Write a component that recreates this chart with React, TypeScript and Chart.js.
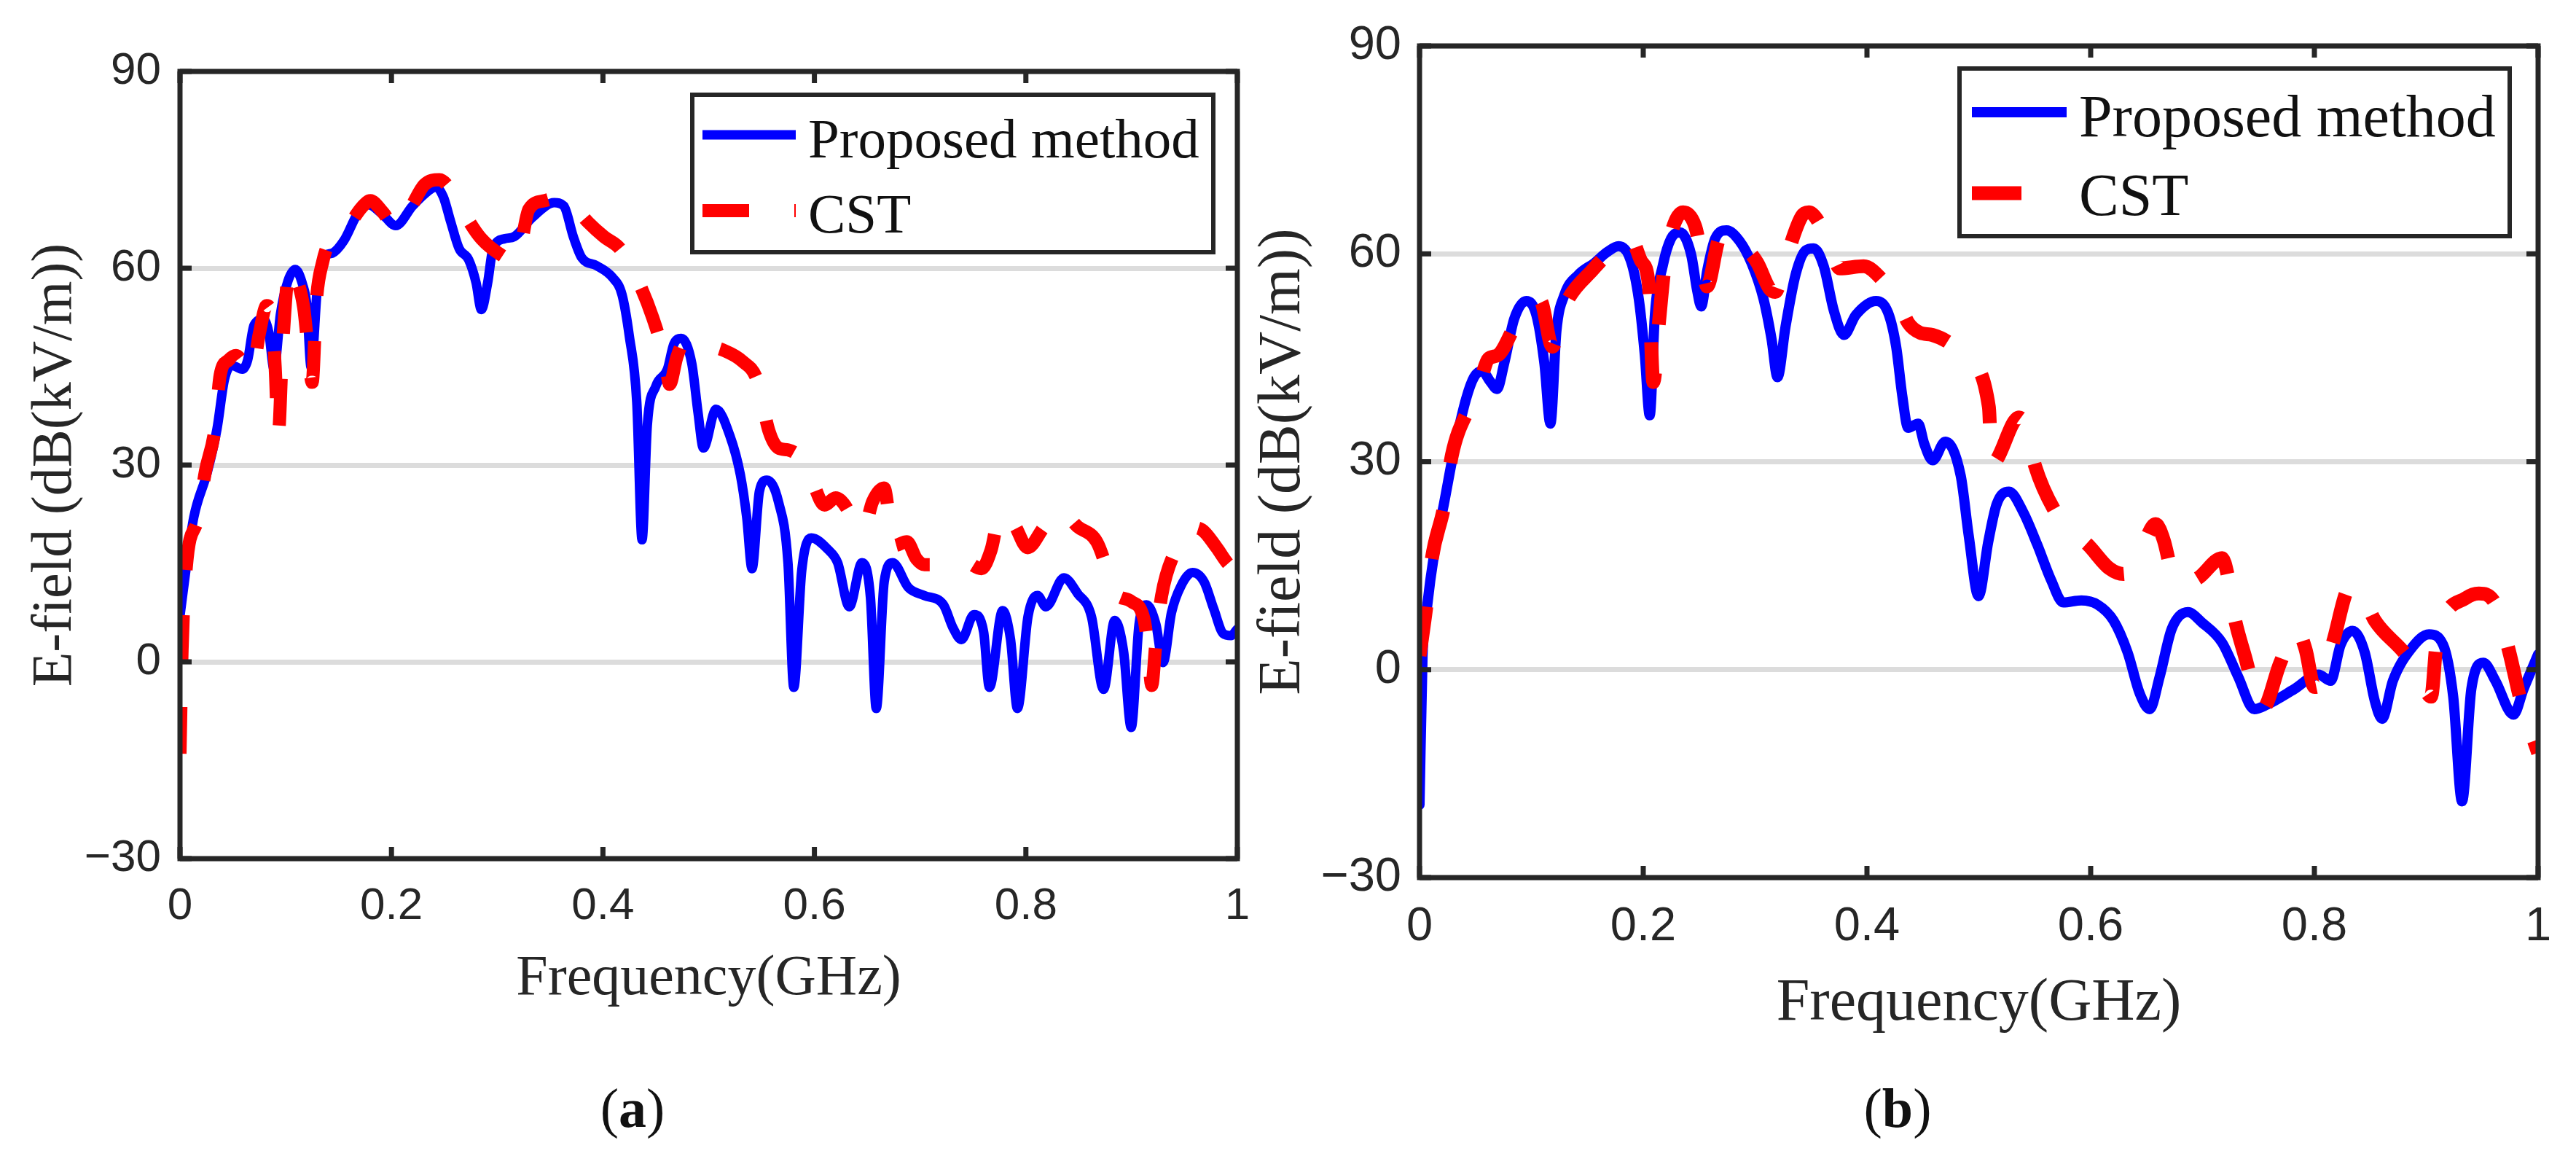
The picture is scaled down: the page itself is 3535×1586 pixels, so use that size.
import React, { useEffect, useRef } from 'react';
import { Chart, registerables } from 'chart.js';

Chart.register(...registerables);

// ---------------- DATA ----------------
const seriesLabels = ['Proposed method', 'CST'];
const xAxisTitle = 'Frequency(GHz)';
const yAxisTitle = 'E-field (dB(kV/m))';
const xTickValues = [0, 0.2, 0.4, 0.6, 0.8, 1];
const xTickLabels = ['0', '0.2', '0.4', '0.6', '0.8', '1'];
const yTickValues = [-30, 0, 30, 60, 90];
const yTickLabels = ['\u221230', '0', '30', '60', '90'];
const panelLetters = ['a', 'b'];

// Panel (a) — Proposed method
const freqProposedA = [
  0, 0.006, 0.013, 0.026, 0.035, 0.042, 0.049, 0.059, 0.064, 0.07, 0.079, 0.084, 0.089, 0.095, 0.102,
  0.109, 0.116, 0.12, 0.124, 0.13, 0.135, 0.144, 0.155, 0.169, 0.178, 0.191, 0.204, 0.22, 0.235, 0.242,
  0.249, 0.256, 0.264, 0.273, 0.28, 0.285, 0.291, 0.296, 0.307, 0.316, 0.333, 0.354, 0.363, 0.372, 0.38,
  0.394, 0.409, 0.418, 0.425, 0.432, 0.437, 0.442, 0.45, 0.461, 0.467, 0.474, 0.484, 0.49, 0.495, 0.507,
  0.52, 0.53, 0.536, 0.541, 0.548, 0.555, 0.566, 0.575, 0.5805, 0.588, 0.597, 0.613, 0.622, 0.633, 0.645,
  0.653, 0.6585, 0.666, 0.674, 0.689, 0.704, 0.722, 0.731, 0.739, 0.751, 0.76, 0.7655, 0.778, 0.7855, 0.792,
  0.802, 0.811, 0.819, 0.836, 0.849, 0.862, 0.8735, 0.884, 0.8924, 0.8996, 0.907, 0.914, 0.923, 0.9297,
  0.9377, 0.9468, 0.9577, 0.9685, 0.9776, 0.9867, 0.994, 1,
];
const eFieldProposedA = [
  7, 14.5, 22, 29, 35.5, 43, 45.2, 44.6, 46, 51.3, 52.2, 50.2, 44.6, 53, 58,
  59.8, 57.5, 54.3, 44.9, 57.2, 61.6, 62.3, 64.2, 68.6, 69.7, 68.3, 66.5, 69.5, 71.8, 72.4,
  70.9, 67.1, 63, 61.3, 57.8, 53.7, 57.8, 63, 64.5, 64.8, 67.7, 70, 69.5, 64.8, 61.6,
  60.4, 58.6, 56, 49.6, 39.6, 18.6, 36.1, 42, 44.6, 48.4, 49.3, 45.5, 37.9, 32.6, 38.5,
  34.5, 28.5, 22, 14.2, 26, 27.7, 24.4, 15.1, -3.9, 13.9, 18.9, 17.1, 15.1, 8.4, 15.1,
  9.8, -7.1, 12.2, 15.1, 11.3, 10.1, 8.7, 5.2, 3.4, 7.2, 4.6, -3.9, 7.8, 3.4, -7.1,
  6.9, 10.1, 8.4, 12.8, 10.4, 6.9, -4.2, 6.3, 1.6, -10, 5.7, 8.7, 5.7, -0.1,
  7.5, 11.6, 13.6, 12.2, 8.1, 4.3, 4, 5,
];

// Panel (a) — CST
const freqCstA = [
  0, 0.002, 0.006, 0.017, 0.024, 0.033, 0.038, 0.046, 0.053, 0.06, 0.068, 0.075, 0.082, 0.087, 0.09,
  0.093, 0.097, 0.104, 0.11, 0.117, 0.121, 0.125, 0.129, 0.135, 0.142, 0.157, 0.172, 0.18, 0.192, 0.204,
  0.218, 0.231, 0.2454, 0.256, 0.264, 0.274, 0.285, 0.303, 0.318, 0.33, 0.345, 0.36, 0.372, 0.386, 0.401,
  0.416, 0.429, 0.447, 0.459, 0.463, 0.47, 0.478, 0.495, 0.514, 0.532, 0.546, 0.557, 0.566, 0.575, 0.586,
  0.598, 0.6095, 0.62, 0.631, 0.637, 0.642, 0.6477, 0.655, 0.6658, 0.675, 0.6875, 0.6965, 0.704, 0.724, 0.74,
  0.758, 0.767, 0.776, 0.789, 0.8017, 0.817, 0.8326, 0.849, 0.867, 0.876, 0.8833, 0.8996, 0.912, 0.9155,
  0.919, 0.923, 0.9284, 0.941, 0.955, 0.9667, 0.98, 0.992, 1,
];
const eFieldCstA = [
  -14, 2, 14.5, 22, 29, 35.5, 43.7, 46, 46.7, 45.5, 44, 50, 54.3, 52, 45,
  34.7, 48, 60.4, 58.5, 54, 48, 42.6, 55, 61, 64.2, 66, 69.3, 70.3, 68.5, 66.2,
  69.2, 72.7, 73.5, 72, 70, 67, 64.5, 62.1, 61, 69, 70.3, 70.8, 69.5, 67, 64.8,
  63, 59.5, 52.5, 45.8, 42.3, 46.5, 49, 48.3, 47.5, 45.8, 42.9, 35.2, 32.6, 32.3, 31.2,
  27.5, 23.9, 25, 23.3, 20.9, 20.3, 20.6, 24.4, 26.5, 17.7, 18.3, 15.7, 14.8, 14.8, 15.4,
  14.2, 17, 22.7, 20.9, 17.4, 20.5, 23, 20.6, 18.3, 14.5, 10.7, 9.2, 6.3, 2,
  -3.6, 3, 10.1, 16.8, 20.5, 20.1, 17.5, 14.8, 14,
];

// Panel (b) — Proposed method
const freqProposedB = [
  0, 0.0027, 0.007, 0.0128, 0.0218, 0.0307, 0.0415, 0.0487, 0.0559, 0.0631, 0.0692, 0.0757, 0.0846, 0.0954,
  0.1044, 0.1116, 0.117, 0.1224, 0.1296, 0.1421, 0.1565, 0.1673, 0.1781, 0.1889, 0.196, 0.2014, 0.2058,
  0.2104, 0.2176, 0.2248, 0.2327, 0.2428, 0.2482, 0.2518, 0.2572, 0.2643, 0.2744, 0.2859, 0.2967, 0.3075,
  0.3147, 0.32, 0.3272, 0.3362, 0.3452, 0.3524, 0.3614, 0.3704, 0.3794, 0.3901, 0.4081, 0.4189, 0.4261,
  0.4315, 0.4368, 0.4458, 0.4512, 0.4587, 0.47, 0.4838, 0.491, 0.4997, 0.5085, 0.516, 0.527, 0.5395, 0.5521,
  0.5647, 0.5755, 0.5917, 0.606, 0.6204, 0.633, 0.6438, 0.6527, 0.6617, 0.6725, 0.6869, 0.6995, 0.7175,
  0.7318, 0.7462, 0.757, 0.7821, 0.8037, 0.8145, 0.8235, 0.8342, 0.845, 0.854, 0.8605, 0.8702, 0.8864,
  0.9025, 0.9151, 0.9241, 0.932, 0.9403, 0.9511, 0.9618, 0.978, 0.987, 1,
];
const eFieldProposedB = [
  -19.5, 1.9, 9.4, 16.4, 23.9, 31.5, 39, 42.2, 43.1, 41.6, 40.5, 44.2, 50.6, 53.2,
  51.2, 44.2, 35.5, 48.9, 54.1, 57, 58.7, 60.2, 61.1, 59, 53.5, 45.4, 36.7,
  51.2, 58.4, 62.2, 63.1, 59.9, 54.7, 52.4, 57.6, 62.2, 63.4, 61.9, 58.7, 53.5,
  47.7, 42.2, 49.5, 57, 60.5, 60.8, 58.2, 51.8, 48.3, 51.2, 53.2, 51.5, 46.6,
  39.6, 34.9, 35.5, 32.6, 30.2, 32.9, 28, 19.3, 10.6, 18.5, 23.9, 25.7, 22.8, 18.1,
  12.9, 9.7, 10, 9.4, 7.1, 2.5, -3.4, -5.7, -1, 5.9, 8.3, 6.8, 3.9,
  -1, -5.7, -5.1, -2.8, -0.7, -1.6, 3.6, 5.6, 2.5, -4.5, -7.1, -1.6, 3,
  5.1, 3.6, -3.9, -19, -2.8, 1, -1.6, -6.5, -2.8, 2.2,
];

// Panel (b) — CST
const freqCstB = [
  0, 0.006, 0.011, 0.022, 0.029, 0.045, 0.055, 0.0613, 0.0703, 0.0865, 0.097, 0.108, 0.1188, 0.128,
  0.156, 0.172, 0.1889, 0.198, 0.205, 0.209, 0.214, 0.219, 0.226, 0.2356, 0.2464, 0.2518, 0.257, 0.268,
  0.278, 0.289, 0.302, 0.3128, 0.318, 0.327, 0.3416, 0.348, 0.3668, 0.3757, 0.397, 0.415, 0.4279, 0.437,
  0.4476, 0.4584, 0.475, 0.4892, 0.509, 0.5115, 0.536, 0.542, 0.5503, 0.5683, 0.582, 0.597, 0.6168, 0.6294,
  0.642, 0.6581, 0.6653, 0.6725, 0.6815, 0.6959, 0.7175, 0.722, 0.728, 0.739, 0.746, 0.7534, 0.7695, 0.784,
  0.792, 0.8001, 0.805, 0.816, 0.8324, 0.8396, 0.854, 0.8828, 0.895, 0.9043, 0.9097, 0.935, 0.947, 0.962,
  0.974, 0.985, 1,
];
const eFieldCstB = [
  2, 9, 16, 23.6, 31, 38.1, 42, 44.8, 45.4, 50, 52.5, 53.2, 46.6, 51.8,
  57.9, 60.5, 62.2, 59, 55.5, 41.5, 50, 58, 63.5, 66, 64, 59.9, 55.3, 62.2,
  63, 61.3, 58.7, 55, 54.5, 59, 65.4, 66, 61.3, 57.9, 58.2, 56, 53.2, 50,
  48.6, 48.3, 47, 44.8, 37.9, 29.7, 36.4, 35, 29.4, 22.8, 20, 18.1, 14.6, 13.8,
  16, 21, 18.7, 14.1, 12.3, 13.2, 16.1, 14, 8, 1.3, -3, -5.7, 1, 5.9,
  3, -2.5, -2, 3.6, 12, 11.7, 7.1, 1.9, -1.5, -3.9, 4.5, 10.3, 11, 9.4,
  2.7, -4.8, -12,
];

// ---------------- LAYOUT / STYLE ----------------
type LegendBox = {
  x1: number; y1: number; x2: number; y2: number;
  lineX1: number; lineLen: number; rowY: number[]; textX: number; textBaseline: number[];
};
type PanelCfg = {
  left: number; width: number; height: number;
  padTop: number; padRight: number;
  yAxisWidth: number; xAxisHeight: number;
  tickFont: number; titleFont: number; legendFont: number;
  yTitlePad: number; xTickPad: number; yTickPad: number;
  blueWidth: number; redWidth: number; dash: number[];
  tickLen: number; boxWidth: number; gridWidth: number;
  legend: LegendBox;
  letterCenterX: number;
};

const panelCfgs: PanelCfg[] = [
  {
    left: 0, width: 1730, height: 1390, padTop: 98, padRight: 32,
    yAxisWidth: 247, xAxisHeight: 212,
    tickFont: 62, titleFont: 78, legendFont: 77,
    yTitlePad: 30, xTickPad: 29, yTickPad: 26,
    blueWidth: 13, redWidth: 18, dash: [64, 62],
    tickLen: 16, boxWidth: 7, gridWidth: 7,
    legend: { x1: 950, y1: 130, x2: 1665, y2: 346, lineX1: 964, lineLen: 128, rowY: [185, 289], textX: 1109, textBaseline: [216, 319] },
    letterCenterX: 868,
  },
  {
    left: 1700, width: 1835, height: 1427, padTop: 63, padRight: 52,
    yAxisWidth: 248, xAxisHeight: 223,
    tickFont: 65, titleFont: 82, legendFont: 82,
    yTitlePad: 12, xTickPad: 29, yTickPad: 25,
    blueWidth: 14, redWidth: 19, dash: [68, 66],
    tickLen: 16, boxWidth: 7, gridWidth: 7,
    legend: { x1: 989, y1: 94, x2: 1744, y2: 324, lineX1: 1006, lineLen: 130, rowY: [154, 265], textX: 1153, textBaseline: [187, 295] },
    letterCenterX: 2604,
  },
];

const AXIS_COLOR = '#262626';
const GRID_COLOR = '#dcdcdc';
const BLUE = '#0000ff';
const RED = '#ff0000';

const matlabBoxPlugin = {
  id: 'matlabBox',
  afterDraw(chart: any, _args: any, opts: any) {
    const cfg: PanelCfg = opts.cfg;
    const ctx = chart.ctx;
    const { left, right, top, bottom } = chart.chartArea;
    const xs = chart.scales.x;
    const ys = chart.scales.y;
    ctx.save();
    ctx.strokeStyle = AXIS_COLOR;
    ctx.lineWidth = cfg.boxWidth;
    ctx.lineCap = 'butt';
    ctx.setLineDash([]);
    // inward ticks
    ctx.beginPath();
    xs.ticks.forEach((t: any) => {
      const px = xs.getPixelForValue(t.value);
      ctx.moveTo(px, bottom);
      ctx.lineTo(px, bottom - cfg.tickLen);
      ctx.moveTo(px, top);
      ctx.lineTo(px, top + cfg.tickLen);
    });
    ys.ticks.forEach((t: any) => {
      const py = ys.getPixelForValue(t.value);
      ctx.moveTo(left, py);
      ctx.lineTo(left + cfg.tickLen, py);
      ctx.moveTo(right, py);
      ctx.lineTo(right - cfg.tickLen, py);
    });
    ctx.stroke();
    // box
    ctx.strokeRect(left, top, right - left, bottom - top);

    // legend
    const lg = cfg.legend;
    ctx.fillStyle = '#ffffff';
    ctx.fillRect(lg.x1, lg.y1, lg.x2 - lg.x1, lg.y2 - lg.y1);
    ctx.lineWidth = 6;
    ctx.strokeStyle = AXIS_COLOR;
    ctx.strokeRect(lg.x1, lg.y1, lg.x2 - lg.x1, lg.y2 - lg.y1);
    chart.data.datasets.forEach((ds: any, i: number) => {
      ctx.beginPath();
      ctx.strokeStyle = ds.borderColor;
      ctx.lineWidth = ds.borderWidth;
      ctx.setLineDash(ds.borderDash || []);
      ctx.lineCap = 'butt';
      ctx.moveTo(lg.lineX1, lg.rowY[i]);
      ctx.lineTo(lg.lineX1 + lg.lineLen, lg.rowY[i]);
      ctx.stroke();
      ctx.setLineDash([]);
      ctx.fillStyle = '#111111';
      ctx.font = `${cfg.legendFont}px "Liberation Serif", "Times New Roman", serif`;
      ctx.textAlign = 'left';
      ctx.textBaseline = 'alphabetic';
      ctx.fillText(ds.label, lg.textX, lg.textBaseline[i]);
    });
    ctx.restore();
  },
};

function toPoints(xs: number[], ys: number[]) {
  return xs.map((x, i) => ({ x, y: ys[i] }));
}

function ChartPanel({ cfg, proposed, cst }: { cfg: PanelCfg; proposed: { x: number; y: number }[]; cst: { x: number; y: number }[] }) {
  const ref = useRef<HTMLCanvasElement | null>(null);
  useEffect(() => {
    if (!ref.current) return;
    const chart = new Chart(ref.current, {
      type: 'line',
      data: {
        datasets: [
          {
            label: seriesLabels[0],
            data: proposed,
            borderColor: BLUE,
            borderWidth: cfg.blueWidth,
            pointRadius: 0,
            fill: false,
            cubicInterpolationMode: 'monotone',
            borderJoinStyle: 'round',
            borderCapStyle: 'round',
            order: 1,
          },
          {
            label: seriesLabels[1],
            data: cst,
            borderColor: RED,
            borderWidth: cfg.redWidth,
            borderDash: cfg.dash,
            pointRadius: 0,
            fill: false,
            cubicInterpolationMode: 'monotone',
            borderJoinStyle: 'round',
            borderCapStyle: 'butt',
            order: 0,
          },
        ],
      } as any,
      options: {
        responsive: false,
        animation: false,
        devicePixelRatio: 1,
        events: [],
        layout: { padding: { left: 0, top: cfg.padTop, right: cfg.padRight, bottom: 0 } },
        plugins: {
          legend: { display: false },
          tooltip: { enabled: false },
          matlabBox: { cfg },
        } as any,
        scales: {
          x: {
            type: 'linear',
            min: 0,
            max: 1,
            afterBuildTicks: (s: any) => {
              s.ticks = xTickValues.map((v) => ({ value: v }));
            },
            afterFit: (s: any) => {
              s.height = cfg.xAxisHeight;
              s.paddingLeft = 0;
              s.paddingRight = 0;
            },
            grid: { display: false, drawTicks: false },
            border: { display: false },
            ticks: {
              color: AXIS_COLOR,
              font: { family: '"Liberation Sans", Arial, sans-serif', size: cfg.tickFont },
              padding: cfg.xTickPad,
              maxRotation: 0,
              autoSkip: false,
              callback: (_v: any, i: number) => xTickLabels[i],
            },
            title: {
              display: true,
              text: xAxisTitle,
              color: AXIS_COLOR,
              font: { family: '"Liberation Serif", "Times New Roman", serif', size: cfg.titleFont },
              padding: { top: 0, bottom: 0 },
            },
          },
          y: {
            type: 'linear',
            min: -30,
            max: 90,
            afterBuildTicks: (s: any) => {
              s.ticks = yTickValues.map((v) => ({ value: v }));
            },
            afterFit: (s: any) => {
              s.width = cfg.yAxisWidth;
              s.paddingTop = 0;
              s.paddingBottom = 0;
            },
            grid: { display: true, drawTicks: false, color: GRID_COLOR, lineWidth: cfg.gridWidth },
            border: { display: false },
            ticks: {
              color: AXIS_COLOR,
              font: { family: '"Liberation Sans", Arial, sans-serif', size: cfg.tickFont },
              padding: cfg.yTickPad,
              autoSkip: false,
              callback: (_v: any, i: number) => yTickLabels[i],
            },
            title: {
              display: true,
              text: yAxisTitle,
              color: AXIS_COLOR,
              font: { family: '"Liberation Serif", "Times New Roman", serif', size: cfg.titleFont },
              padding: { top: cfg.yTitlePad, bottom: 0 },
            },
          },
        },
      } as any,
      plugins: [matlabBoxPlugin as any],
    });
    return () => chart.destroy();
  }, [cfg, proposed, cst]);

  return (
    <canvas
      ref={ref}
      width={cfg.width}
      height={cfg.height}
      style={{ position: 'absolute', left: cfg.left, top: 0, width: cfg.width, height: cfg.height }}
    />
  );
}

const dataA = { proposed: toPoints(freqProposedA, eFieldProposedA), cst: toPoints(freqCstA, eFieldCstA) };
const dataB = { proposed: toPoints(freqProposedB, eFieldProposedB), cst: toPoints(freqCstB, eFieldCstB) };
const panelData = [dataA, dataB];

export default function App() {
  return (
    <div
      style={{
        position: 'absolute',
        left: 0,
        top: 0,
        width: 3535,
        height: 1586,
        background: '#ffffff',
        overflow: 'hidden',
      }}
    >
      {panelCfgs.map((cfg, i) => (
        <React.Fragment key={i}>
          <ChartPanel cfg={cfg} proposed={panelData[i].proposed} cst={panelData[i].cst} />
          <div
            style={{
              position: 'absolute',
              left: cfg.letterCenterX,
              top: 1482,
              transform: 'translateX(-50%)',
              fontFamily: '"Liberation Serif", "Times New Roman", serif',
              fontSize: 76,
              lineHeight: 1,
              color: '#111111',
              whiteSpace: 'nowrap',
            }}
          >
            (<b>{panelLetters[i]}</b>)
          </div>
        </React.Fragment>
      ))}
    </div>
  );
}
